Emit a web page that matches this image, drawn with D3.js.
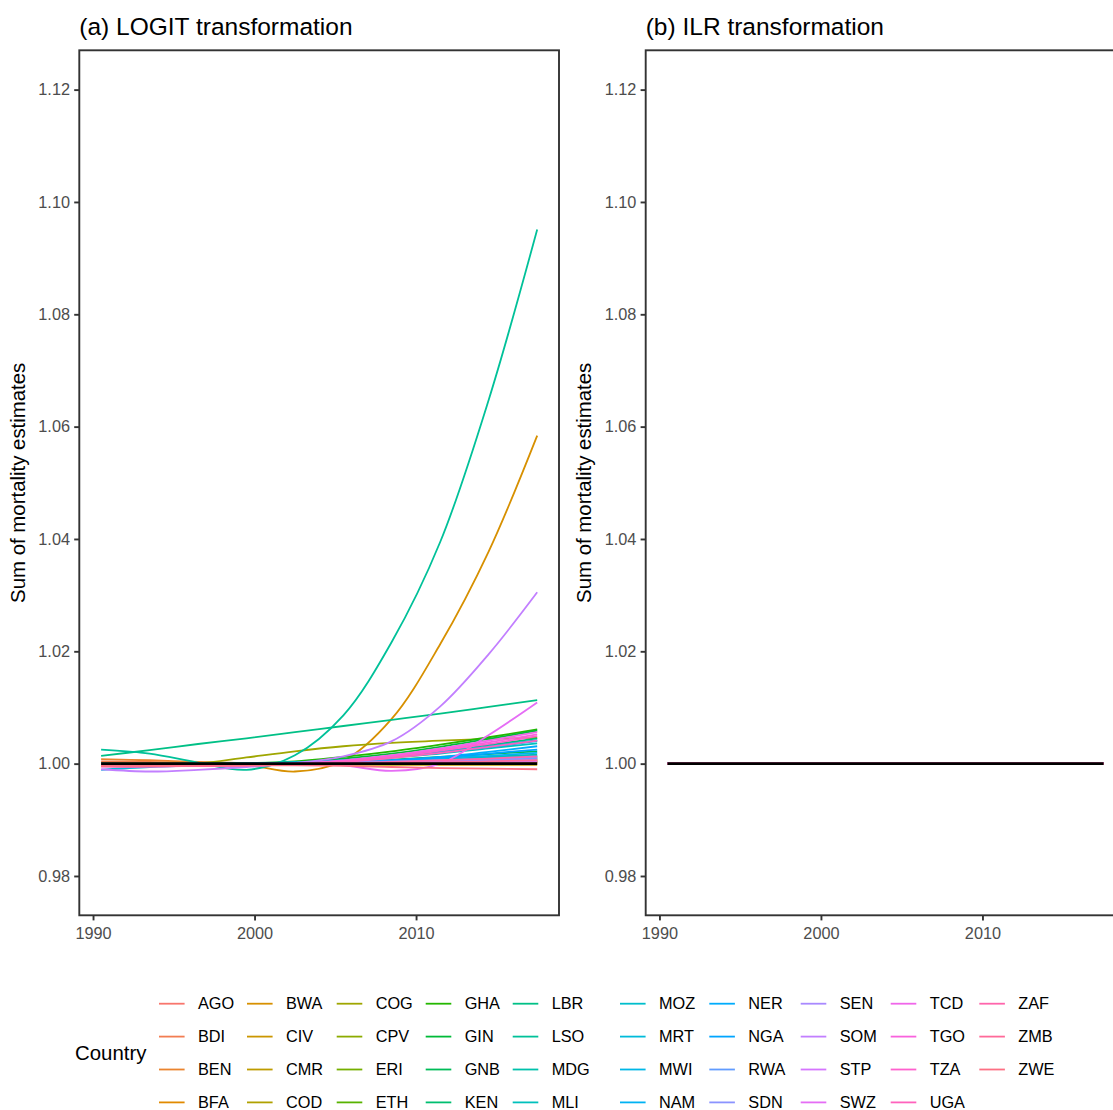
<!DOCTYPE html>
<html>
<head>
<meta charset="utf-8">
<script src="https://cdn.jsdelivr.net/npm/d3@7"></script>
<style>
  body { margin: 0; background: #fff; }
  text { font-family: "Liberation Sans", Arial, Helvetica, sans-serif; }
</style>
</head>
<body>
<div id="container"></div>
<script>
const years = [1990.5, 1993.5, 1996.5, 1999.5, 2002.5, 2005.5, 2008.5, 2011.5, 2014.5, 2017.5];

const countries = [
  "AGO", "BDI", "BEN", "BFA", "BWA", "CIV", "CMR", "COD", "COG", "CPV",
  "ERI", "ETH", "GHA", "GIN", "GNB", "KEN", "LBR", "LSO", "MDG", "MLI",
  "MOZ", "MRT", "MWI", "NAM", "NER", "NGA", "RWA", "SDN", "SEN", "SOM",
  "STP", "SWZ", "TCD", "TGO", "TZA", "UGA", "ZAF", "ZMB", "ZWE",
];

// sum of mortality estimates, LOGIT transformation
const AGO = [0.9997, 0.9996, 0.9996, 0.9997, 0.9998, 0.9999, 1.0, 1.0, 1.0001, 1.0001];
const BDI = [1.0004, 1.0003, 1.0001, 1.0, 0.9999, 1.0, 1.0001, 1.0002, 1.0004, 1.0005];
const BEN = [1.0008, 1.0006, 1.0003, 1.0001, 1.0, 1.0, 1.0, 1.0001, 1.0001, 1.0002];
const BFA = [1.0, 0.9999, 0.9998, 0.9998, 0.9999, 0.9999, 1.0, 1.0001, 1.0002, 1.0003];
const BWA = [1.0001, 1.0001, 1.0, 0.9998, 0.9986, 1.0005, 1.008, 1.0213, 1.0378, 1.0584];
const CIV = [0.9999, 0.9999, 0.9998, 0.9998, 0.9999, 1.0, 1.0001, 1.0003, 1.0004, 1.0006];
const CMR = [1.0, 1.0, 0.9999, 0.9999, 0.9998, 0.9998, 0.9998, 0.9998, 0.9998, 0.9998];
const COD = [0.9998, 0.9998, 0.9999, 0.9999, 1.0, 1.0, 1.0001, 1.0002, 1.0003, 1.0004];
const COG = [0.9996, 0.9997, 1.0, 1.0011, 1.0022, 1.0031, 1.0037, 1.0041, 1.0044, 1.0046];
const CPV = [0.9999, 0.9999, 0.9999, 1.0, 1.0001, 1.0002, 1.0004, 1.0006, 1.0008, 1.001];
const ERI = [0.9998, 0.9998, 0.9999, 0.9999, 1.0, 1.0001, 1.0003, 1.0004, 1.0006, 1.0008];
const ETH = [0.9997, 0.9998, 0.9998, 0.9999, 1.0, 1.0002, 1.0004, 1.0006, 1.0009, 1.0012];
const GHA = [0.9998, 0.9998, 0.9999, 1.0, 1.0004, 1.0012, 1.0022, 1.0034, 1.0047, 1.0061];
const GIN = [0.9999, 0.9999, 1.0, 1.0001, 1.0003, 1.0009, 1.0018, 1.003, 1.0044, 1.0059];
const GNB = [1.0, 0.9999, 0.9999, 1.0, 1.0001, 1.0003, 1.0007, 1.0012, 1.0017, 1.0022];
const KEN = [0.9998, 0.9998, 0.9999, 1.0, 1.0002, 1.0006, 1.0013, 1.0022, 1.0033, 1.0045];
const LBR = [1.0014, 1.0024, 1.0035, 1.0045, 1.0056, 1.0067, 1.0078, 1.0089, 1.0101, 1.0113];
const LSO = [1.0025, 1.0018, 1.0002, 0.9989, 1.0015, 1.0086, 1.0217, 1.0395, 1.0648, 1.0951];
const MDG = [0.9999, 0.9999, 0.9999, 0.9999, 1.0, 1.0002, 1.0005, 1.0008, 1.0012, 1.0016];
const MLI = [0.9999, 0.9999, 1.0, 1.0, 1.0002, 1.0005, 1.0011, 1.0018, 1.0027, 1.0036];
const MOZ = [0.9998, 0.9998, 0.9999, 1.0, 1.0002, 1.0006, 1.0013, 1.0021, 1.0031, 1.0042];
const MRT = [0.9989, 0.9994, 0.9997, 0.9999, 1.0, 1.0002, 1.0004, 1.0007, 1.001, 1.0014];
const MWI = [0.9999, 0.9999, 0.9999, 1.0, 1.0002, 1.0006, 1.0012, 1.002, 1.0029, 1.004];
const NAM = [1.0, 1.0, 1.0, 1.0, 1.0001, 1.0003, 1.0006, 1.001, 1.0014, 1.0019];
const NER = [0.9999, 0.9998, 0.9998, 0.9999, 1.0, 1.0001, 1.0005, 1.0012, 1.0021, 1.0031];
const NGA = [0.9998, 0.9998, 0.9998, 0.9999, 1.0, 1.0002, 1.0006, 1.0011, 1.0018, 1.0025];
const RWA = [0.9999, 0.9999, 0.9999, 0.9999, 1.0, 1.0001, 1.0003, 1.0005, 1.0007, 1.0009];
const SDN = [1.0, 0.9999, 0.9999, 1.0, 1.0, 1.0002, 1.0004, 1.0006, 1.0008, 1.0011];
const SEN = [0.9999, 0.9999, 0.9999, 0.9999, 1.0, 1.0001, 1.0002, 1.0004, 1.0005, 1.0007];
const SOM = [0.999, 0.9986, 0.9989, 0.9994, 1.0001, 1.0013, 1.004, 1.0102, 1.0195, 1.0305];
const STP = [0.9998, 0.9997, 0.9998, 0.9998, 0.9999, 1.0, 1.0001, 1.0002, 1.0003, 1.0004];
const SWZ = [0.9995, 0.9995, 0.9997, 0.9999, 1.0, 0.9997, 0.9987, 1.0, 1.0051, 1.0109];
const TCD = [0.9996, 0.9996, 0.9997, 0.9998, 1.0, 1.0006, 1.0015, 1.0027, 1.0041, 1.0056];
const TGO = [0.9995, 0.9995, 0.9996, 0.9998, 1.0, 1.0005, 1.0014, 1.0025, 1.0038, 1.0052];
const TZA = [0.9996, 0.9995, 0.9996, 0.9997, 0.9999, 1.0004, 1.0012, 1.0023, 1.0035, 1.0049];
const UGA = [0.9997, 0.9996, 0.9996, 0.9997, 0.9999, 1.0003, 1.001, 1.0019, 1.003, 1.0041];
const ZAF = [0.9996, 0.9996, 0.9996, 0.9997, 0.9998, 1.0, 1.0003, 1.0006, 1.0009, 1.0013];
const ZMB = [0.9995, 0.9995, 0.9996, 0.9997, 0.9998, 0.9999, 1.0001, 1.0002, 1.0004, 1.0006];
const ZWE = [0.9996, 0.9996, 0.9997, 0.9997, 0.9997, 0.9996, 0.9994, 0.9992, 0.9991, 0.999];

const logitSums = [
  AGO, BDI, BEN, BFA, BWA, CIV, CMR, COD, COG, CPV,
  ERI, ETH, GHA, GIN, GNB, KEN, LBR, LSO, MDG, MLI,
  MOZ, MRT, MWI, NAM, NER, NGA, RWA, SDN, SEN, SOM,
  STP, SWZ, TCD, TGO, TZA, UGA, ZAF, ZMB, ZWE,
];

// ILR transformation: every country sums to exactly 1 (panel b)
const ilrSums = [1, 1, 1, 1, 1, 1, 1, 1, 1, 1];

// black reference line
const refYears = [1990.5, 2017.5];
const refSums = [1, 1];

const xTicks = [1990, 2000, 2010];
const yTicks = [0.98, 1.0, 1.02, 1.04, 1.06, 1.08, 1.1, 1.12];
const yLimits = [0.98, 1.12];
const titles = ["(a) LOGIT transformation", "(b) ILR transformation"];

// ggplot2 default hue palette: polar LUV with c = 100, l = 65
const hueColor = (h) => {
  const L = 65, C = 100;
  const rad = (h * Math.PI) / 180;
  const U = C * Math.cos(rad), V = C * Math.sin(rad);
  const Y = 100 * Math.pow((L + 16) / 116, 3);
  const u = U / (13 * L) + 0.1978398;
  const v = V / (13 * L) + 0.4683363;
  const X = (9 * Y * u) / (4 * v);
  const Z = -X / 3 - 5 * Y + (3 * Y) / v;
  const g = (c) => {
    const t = c > 0.00304 ? 1.055 * Math.pow(c, 1 / 2.4) - 0.055 : 12.92 * c;
    return Math.round(255 * Math.max(0, Math.min(1, t)));
  };
  const r = g((3.240479 * X - 1.53715 * Y - 0.498535 * Z) / 100);
  const gg = g((-0.969256 * X + 1.875992 * Y + 0.041556 * Z) / 100);
  const b = g((0.055648 * X - 0.204043 * Y + 1.057311 * Z) / 100);
  return d3.rgb(r, gg, b).formatHex();
};

const color = d3
  .scaleOrdinal()
  .domain(countries)
  .range(countries.map((d, i) => hueColor(15 + (360 / countries.length) * i)));

const W = 1113, H = 1110;
const panel = { width: 479.7, height: 865, top: 50.3 };
const panelLefts = [79.3, 645.7];

const svg = d3
  .select("#container")
  .append("svg")
  .attr("width", W)
  .attr("height", H)
  .style("display", "block");

svg.append("rect").attr("width", W).attr("height", H).attr("fill", "#fff");

const span = d3.extent(years);
const xPad = (span[1] - span[0]) * 0.05;
const yPad = (yLimits[1] - yLimits[0]) * 0.05;

const xScale = d3
  .scaleLinear()
  .domain([span[0] - xPad, span[1] + xPad])
  .range([0, panel.width]);
const yScale = d3
  .scaleLinear()
  .domain([yLimits[0] - yPad, yLimits[1] + yPad])
  .range([panel.height, 0]);

const line = d3
  .line()
  .x((d) => xScale(d[0]))
  .y((d) => yScale(d[1]))
  .curve(d3.curveCatmullRom);

const drawPanel = (k, seriesList) => {
  const g = svg
    .append("g")
    .attr("transform", `translate(${panelLefts[k]},${panel.top})`);

  g.append("text")
    .attr("x", 0)
    .attr("y", -15.5)
    .style("font-size", "24.5px")
    .attr("fill", "#000")
    .text(titles[k]);

  g.append("g")
    .selectAll("path")
    .data(seriesList)
    .enter()
    .append("path")
    .attr("d", (d) => line(years.map((yr, i) => [yr, d.values[i]])))
    .attr("fill", "none")
    .attr("stroke", (d) => color(d.country))
    .attr("stroke-width", 1.8);

  g.append("path")
    .attr("d", line(refYears.map((yr, i) => [yr, refSums[i]])))
    .attr("fill", "none")
    .attr("stroke", "#000")
    .attr("stroke-width", 2.6);

  const xAxis = d3
    .axisBottom(xScale)
    .tickValues(xTicks)
    .tickFormat(d3.format("d"))
    .tickSize(5.1)
    .tickPadding(4);
  const yAxis = d3
    .axisLeft(yScale)
    .tickValues(yTicks)
    .tickFormat(d3.format(".2f"))
    .tickSize(5.1)
    .tickPadding(4.2);

  const gx = g
    .append("g")
    .attr("transform", `translate(0,${panel.height})`)
    .call(xAxis);
  const gy = g.append("g").call(yAxis);
  [gx, gy].forEach((ax) => {
    ax.select(".domain").remove();
    ax.selectAll(".tick line").attr("stroke", "#333").attr("stroke-width", 1.9);
    ax.selectAll(".tick text")
      .attr("fill", "#4d4d4d")
      .style("font-size", "16.3px")
      .style("font-family", '"Liberation Sans", Arial, sans-serif');
  });
  gx.selectAll(".tick text").attr("dy", "0.92em");

  g.append("rect")
    .attr("width", panel.width)
    .attr("height", panel.height)
    .attr("fill", "none")
    .attr("stroke", "#333")
    .attr("stroke-width", 1.9);

  g.append("text")
    .attr("transform", `translate(-54.3,${panel.height / 2}) rotate(-90)`)
    .attr("text-anchor", "middle")
    .style("font-size", "20.4px")
    .attr("fill", "#000")
    .text("Sum of mortality estimates");
};

drawPanel(
  0,
  countries.map((c, i) => ({ country: c, values: logitSums[i] }))
);
drawPanel(
  1,
  countries.map((c) => ({ country: c, values: ilrSums }))
);

// legend: 4 rows, filled column by column
const nRow = 4;
const legendCols = [155.8, 243.8, 333.5, 422.5, 509.5, 616.8, 706.1, 797.5, 887.5, 976.1];
const keyW = 32, gap = 10.2, rowH = 32.9, firstRow = 1003.7;

const legend = svg.append("g").attr("id", "legend");
legend
  .append("text")
  .attr("x", 75)
  .attr("y", 1053)
  .attr("dy", "0.35em")
  .style("font-size", "20.4px")
  .attr("fill", "#000")
  .text("Country");

const entries = legend
  .selectAll(".entry")
  .data(countries)
  .enter()
  .append("g")
  .attr("class", "entry")
  .attr(
    "transform",
    (d, i) =>
      `translate(${legendCols[Math.floor(i / nRow)]},${firstRow + (i % nRow) * rowH})`
  );
entries
  .append("line")
  .attr("x1", keyW * 0.1)
  .attr("x2", keyW * 0.9)
  .attr("stroke", (d) => color(d))
  .attr("stroke-width", 1.8);
entries
  .append("text")
  .attr("x", keyW + gap)
  .attr("dy", "0.35em")
  .style("font-size", "16.3px")
  .attr("fill", "#000")
  .text((d) => d);
</script>
</body>
</html>
